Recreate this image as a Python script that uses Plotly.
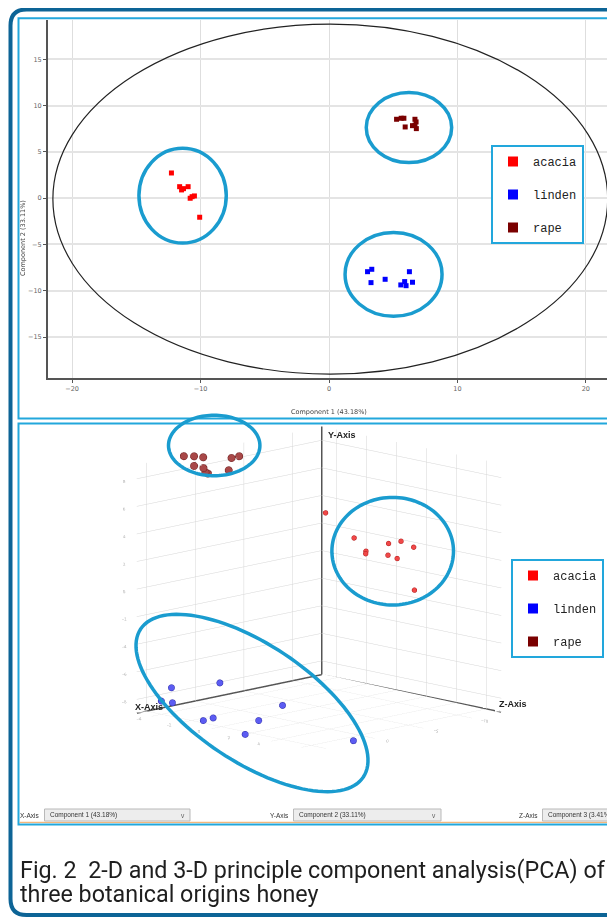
import numpy as np
import plotly.graph_objects as go

# the page body has an 8px margin: the figure is sized so it fills the 615x918 window
OFF = 8
W, H = 615 - OFF, 918 - OFF

groups = ["acacia", "linden", "rape"]
col2d = {"acacia": "#ff0000", "linden": "#0000ff", "rape": "#7a0000"}

# ---------------- 2-D PCA scores (Component 1, Component 2) ----------------
acacia_pc1 = [-12.27, -11.63, -11.48, -11.33, -10.97, -10.81, -10.66, -10.48, -10.07]
acacia_pc2 = [2.72, 1.24, 0.89, 1.03, 1.24, -0.01, 0.16, 0.24, -2.06]
linden_pc1 = [3.00, 3.33, 3.27, 4.37, 6.26, 5.59, 5.89, 6.00, 6.50]
linden_pc2 = [-7.94, -7.68, -9.12, -8.76, -7.94, -9.37, -9.01, -9.45, -9.08]
rape_pc1 = [5.26, 5.62, 5.83, 5.93, 6.69, 6.78, 6.50, 6.80, 6.69]
rape_pc2 = [8.52, 8.63, 8.63, 7.69, 8.52, 8.23, 7.83, 7.51, 7.87]

# ---------------- 3-D PCA scores (Component 1, 2, 3) ----------------
acacia3_c1 = [-4.36, -1.93, -1.53, -1.35, -0.08, 1.08, 1.73, 0.27, 0.69, 1.65]
acacia3_c2 = [2.97, 1.82, 0.86, 0.76, 1.73, 2.23, 1.90, 1.05, 0.86, -1.26]
acacia3_c3 = [-12.4, -11.6, -12.2, -11.9, -12.3, -11.8, -12.1, -11.7, -12.0, -12.3]
linden3_c1 = [-4.64, -3.12, -4.64, -3.50, -1.20, -0.90, 1.84, 1.80, 2.12, 6.76]
linden3_c2 = [-7.51, -7.20, -8.32, -8.10, -8.82, -8.64, -8.28, -7.56, -8.95, -8.95]
linden3_c3 = [3.00, 0.36, 4.04, 4.65, 5.01, 4.46, 3.99, 1.48, 5.81, 1.82]
rape3_c1 = [-4.95, -4.90, -4.92, -4.88, -4.95, -4.90, -4.93, -4.90, -4.95, -4.88]
rape3_c2 = [8.96, 8.82, 8.60, 8.14, 8.12, 8.12, 7.81, 7.49, 7.34, 7.29]
rape3_c3 = [1.25, 0.28, -0.69, -3.54, -4.43, 0.28, -0.73, -0.89, -1.22, -3.25]

# axis settings
X2_RANGE = [-21.88, 21.8]
Y2_RANGE = [-19.42, 19.24]
C3_RANGE = [-13, 6]     # scene x  (Component 3)
C1_RANGE = [-5, 7]      # scene y  (Component 1)
C2_RANGE = [-9, 9]      # scene z  (Component 2)

d2 = {"acacia": (acacia_pc1, acacia_pc2), "linden": (linden_pc1, linden_pc2),
      "rape": (rape_pc1, rape_pc2)}
d3 = {"acacia": (acacia3_c1, acacia3_c2, acacia3_c3),
      "linden": (linden3_c1, linden3_c2, linden3_c3),
      "rape": (rape3_c1, rape3_c2, rape3_c3)}
style3 = {"acacia": dict(size=2.8, color="#f04848", line=dict(color="#b01818", width=1)),
          "linden": dict(size=3.7, color="#5c5cf2", line=dict(color="#2a2aa8", width=1)),
          "rape": dict(size=4.3, color="#a84848", line=dict(color="#6a1c1c", width=1))}


def px2paper(x, y):
    """window pixel -> paper coordinate"""
    return (x - OFF) / W, 1 - (y - OFF) / H


fig = go.Figure()

for g in groups:
    fig.add_trace(go.Scatter(x=d2[g][0], y=d2[g][1], mode="markers", name=g,
                             marker=dict(symbol="square", size=5, color=col2d[g]),
                             showlegend=False, hoverinfo="skip"))

for g in groups:
    c1, c2, c3 = d3[g]
    fig.add_trace(go.Scatter3d(x=c3, y=c1, z=c2, mode="markers", name=g,
                               marker=style3[g], showlegend=False, scene="scene",
                               hoverinfo="skip"))

# dark axis lines from the back corner of the 3-D box
xa, xb = C3_RANGE
ya, yb = C1_RANGE
za, zb = C2_RANGE
fig.add_trace(go.Scatter3d(x=[xb, xa, xa, None, xa, xa], y=[ya, ya, yb, None, ya, ya],
                           z=[za, za, za, None, za, zb], mode="lines",
                           line=dict(color="#555555", width=3), showlegend=False,
                           hoverinfo="skip", scene="scene"))

# legend entries
for lg, pre in (("legend", "a"), ("legend2", "b")):
    for g in groups:
        fig.add_trace(go.Scatter(x=[None], y=[None], mode="markers", name=g,
                                 marker=dict(symbol="square", size=10, color=col2d[g]),
                                 legend=lg, legendgroup=pre + g, showlegend=True))


def ellipse_path(cx, cy, rx, ry, ang=0.0, n=120):
    t = np.linspace(0, 2 * np.pi, n, endpoint=False)
    th = np.radians(ang)
    px = cx + rx * np.cos(t) * np.cos(th) - ry * np.sin(t) * np.sin(th)
    py = cy + rx * np.cos(t) * np.sin(th) + ry * np.sin(t) * np.cos(th)
    pts = [px2paper(a, b) for a, b in zip(px, py)]
    return "M " + " L ".join(f"{a:.5f},{b:.5f}" for a, b in pts) + " Z"


def rect_paper(x0, y0, x1, y1, **kw):
    a0, b0 = px2paper(x0, y0)
    a1, b1 = px2paper(x1, y1)
    return dict(type="rect", xref="paper", yref="paper", x0=a0, x1=a1, y0=b1, y1=b0, **kw)


def rounded_frame(x0, y0, x1, y1, r):
    s = "M {:.5f},{:.5f} L {:.5f},{:.5f} ".format(*px2paper(x1, y0), *px2paper(x0 + r, y0))
    s += "Q {:.5f},{:.5f} {:.5f},{:.5f} ".format(*px2paper(x0, y0), *px2paper(x0, y0 + r))
    s += "L {:.5f},{:.5f} ".format(*px2paper(x0, y1 - r))
    s += "Q {:.5f},{:.5f} {:.5f},{:.5f} ".format(*px2paper(x0, y1), *px2paper(x0 + r, y1))
    s += "L {:.5f},{:.5f}".format(*px2paper(x1, y1))
    return s


CYAN = "#1a9ccf"
PANEL = "#22a7dc"
shapes = []
# outer frame and panels
shapes.append(dict(type="path", xref="paper", yref="paper",
                   path=rounded_frame(10.5, 9.5, 680, 915, 16),
                   line=dict(color="#0d6496", width=4)))
shapes.append(rect_paper(18.5, 18.3, 610.5, 418.5, line=dict(color=PANEL, width=2)))
shapes.append(rect_paper(18.5, 423.5, 611.5, 824.5, line=dict(color=PANEL, width=2)))
a0, b0 = px2paper(19.5, 822.3)
a1, _ = px2paper(610.5, 822.3)
shapes.append(dict(type="line", xref="paper", yref="paper", x0=a0, x1=a1, y0=b0, y1=b0,
                   line=dict(color="#f2a65a", width=1)))

# 2-D plot: outer ellipse and group circles (data coordinates)
shapes.append(dict(type="circle", xref="x", yref="y", x0=-21.5, x1=21.7, y0=-19.0, y1=18.8,
                   line=dict(color="#222222", width=1.2)))
for x0, x1, y0, y1 in ((-14.8, -8.0, -4.85, 5.4), (2.9, 9.55, 3.85, 11.4),
                       (1.25, 8.8, -12.75, -3.7)):
    shapes.append(dict(type="circle", xref="x", yref="y", x0=x0, x1=x1, y0=y0, y1=y1,
                       line=dict(color=CYAN, width=3.5)))

# 3-D plot group ellipses (page coordinates)
for cx, cy, rx, ry, ang in ((214.2, 445.5, 45.7, 30.2, 0), (392.7, 551.2, 60.8, 53.8, 0),
                            (252.0, 703.0, 133.7, 58.7, 33.6)):
    shapes.append(dict(type="path", xref="paper", yref="paper",
                       path=ellipse_path(cx, cy, rx, ry, ang),
                       line=dict(color=CYAN, width=3.5)))

annotations = []
axfont = dict(family="DejaVu Sans, Arial, sans-serif", size=6.5, color="#444444")
ax_, ay_ = px2paper(329, 412)
annotations.append(dict(x=ax_, y=ay_, xref="paper", yref="paper", showarrow=False,
                        text="Component 1 (43.18%)", font=axfont))
ax_, ay_ = px2paper(17, 198)
annotations.append(dict(x=ax_, y=ay_, xref="paper", yref="paper", showarrow=False,
                        text="Component 2 (33.11%)", font=axfont, textangle=-90))

# axis selector boxes under the 3-D plot
small = dict(family="Liberation Sans, Arial, sans-serif", size=6.5, color="#333333")
for lab, lx, bx0, bx1, txt in (("X-Axis", 29.5, 44.5, 190, "Component 1 (43.18%)"),
                               ("Y-Axis", 279, 293.5, 441, "Component 2 (33.11%)"),
                               ("Z-Axis", 528.5, 542.5, 608, "Component 3 (3.41%)")):
    shapes.append(rect_paper(bx0, 809, bx1, 821, fillcolor="#ededed",
                             line=dict(color="#b9b9b9", width=1)))
    ax_, ay_ = px2paper(lx, 815)
    annotations.append(dict(x=ax_, y=ay_, xref="paper", yref="paper", text=lab,
                            showarrow=False, font=small, xanchor="center", yanchor="middle"))
    tx, _ = px2paper(bx0 + 3, 815)
    annotations.append(dict(x=tx, y=ay_, xref="paper", yref="paper", text=txt,
                            showarrow=False, font=small, xanchor="left", yanchor="middle"))
    if bx1 < 600:
        vx, _ = px2paper(bx1 - 7, 815)
        annotations.append(dict(x=vx, y=ay_, xref="paper", yref="paper", text="v",
                                showarrow=False, font=dict(size=6.5, color="#555"),
                                xanchor="center", yanchor="middle"))

# caption (two lines)
capfont = dict(family="Roboto, Liberation Sans, Arial, sans-serif", size=23.3,
               color="#1e1e1e")
for txt, top in (("Fig. 2  2-D and 3-D principle component analysis(PCA) of", 854),
                 ("three botanical origins honey", 878)):
    cx_, cy_ = px2paper(18, top)
    annotations.append(dict(x=cx_, y=cy_, xref="paper", yref="paper", xanchor="left",
                            yanchor="top", align="left", showarrow=False, text=txt,
                            font=capfont))

tickf = dict(family="DejaVu Sans, Arial, sans-serif", size=6.5, color="#666666")
sfont = dict(family="Liberation Sans, Arial", size=9, color="#222")
leg_font = dict(family="Liberation Mono, Courier New, monospace", size=12, color="#222")
lx1, ly1 = px2paper(491, 145)
lx2, ly2 = px2paper(511, 559)
sx0, sy1 = px2paper(24, 425)
sx1, sy0 = px2paper(614, 752)
xd0, _ = px2paper(48, 0)
xd1, _ = px2paper(609, 0)
_, yd1 = px2paper(0, 20)
_, yd0 = px2paper(0, 378)
eps = 0.02

fig.update_layout(
    width=W, height=H, autosize=False,
    margin=dict(l=0, r=0, t=0, b=0),
    paper_bgcolor="white", plot_bgcolor="white",
    shapes=shapes, annotations=annotations,
    xaxis=dict(domain=[xd0, xd1], range=X2_RANGE, tickvals=[-20, -10, 0, 10, 20],
               showgrid=True, gridcolor="#dedede", gridwidth=1, zeroline=False,
               showline=True, linecolor="#555555", linewidth=2,
               ticks="outside", ticklen=3, tickcolor="#555", tickfont=tickf),
    yaxis=dict(domain=[yd0, yd1], range=Y2_RANGE,
               tickvals=[-15, -10, -5, 0, 5, 10, 15],
               showgrid=True, gridcolor="#e4e4e4", gridwidth=2, zeroline=False,
               showline=True, linecolor="#555555", linewidth=2,
               ticks="outside", ticklen=3, tickcolor="#555", tickfont=tickf),
    scene=dict(
        domain=dict(x=[sx0, sx1], y=[sy0, sy1]),
        aspectmode="manual", aspectratio=dict(x=1.6, y=1.552, z=1.552),
        camera=dict(projection=dict(type="orthographic"),
                    eye=dict(x=0.631, y=0.631, z=0.190),
                    center=dict(x=0, y=0, z=0), up=dict(x=0, y=0, z=1)),
        bgcolor="rgba(0,0,0,0)",
        xaxis=dict(range=C3_RANGE, tickvals=[-10, -5, 0, 5], title=dict(text=""),
                   showbackground=False, gridcolor="#d6d6d6", gridwidth=1, zeroline=False,
                   showline=False, tickfont=dict(size=7, color="#9a9a9a"), showspikes=False),
        yaxis=dict(range=C1_RANGE, tickvals=[-4, -2, 0, 2, 4, 6], title=dict(text=""),
                   showbackground=False, gridcolor="#d6d6d6", gridwidth=1, zeroline=False,
                   showline=False, tickfont=dict(size=7, color="#9a9a9a"), showspikes=False),
        zaxis=dict(range=C2_RANGE, tickvals=[-8, -6, -4, -2, 0, 2, 4, 6, 8],
                   title=dict(text=""),
                   showbackground=False, gridcolor="#d6d6d6", gridwidth=1, zeroline=False,
                   showline=False, tickfont=dict(size=7, color="#9a9a9a"), showspikes=False),
        annotations=[
            dict(x=xa + eps, y=ya + eps, z=zb - eps, text="<b>Y-Axis</b>", showarrow=False,
                 xshift=20, yshift=-8, font=sfont),
            dict(x=xb - eps, y=ya + eps, z=za + eps, text="<b>X-Axis</b>", showarrow=False,
                 xshift=12, yshift=6, font=sfont),
            dict(x=xa + eps, y=yb - eps, z=za + eps, text="<b>Z-Axis</b>", showarrow=False,
                 xshift=12, yshift=8, font=sfont),
        ],
    ),
    legend=dict(x=lx1, y=ly1, xanchor="left", yanchor="top",
                bordercolor=PANEL, borderwidth=2, bgcolor="white", font=leg_font,
                traceorder="grouped", tracegroupgap=14, itemwidth=30),
    legend2=dict(x=lx2, y=ly2, xanchor="left", yanchor="top",
                 bordercolor=PANEL, borderwidth=2, bgcolor="white", font=leg_font,
                 traceorder="grouped", tracegroupgap=14, itemwidth=30),
)

fig.write_html("out.html", config=dict(displayModeBar=False))
